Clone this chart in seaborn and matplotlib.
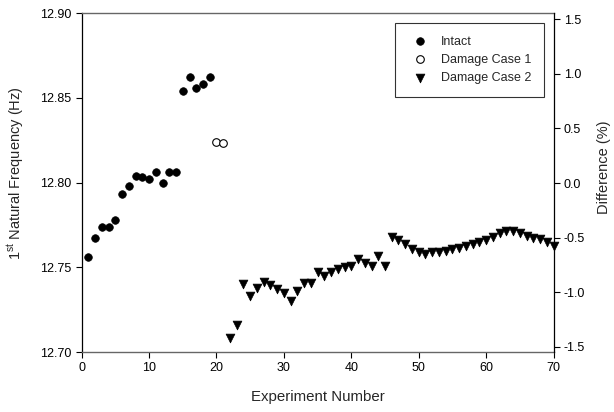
import numpy as np
import matplotlib
matplotlib.use("Agg")
import matplotlib.pyplot as plt
import seaborn as sns

# ---- data ----
intact_x = list(range(1, 20))
intact_f = [12.756, 12.767, 12.774, 12.774, 12.778, 12.793, 12.798, 12.804, 12.803,
            12.802, 12.806, 12.800, 12.806, 12.806, 12.854, 12.862, 12.856, 12.858, 12.862]

case1_x = [20, 21]
case1_f = [12.824, 12.8235]

case2_x = list(range(22, 71))
case2_f = [12.708, 12.716, 12.740, 12.733, 12.738, 12.7415, 12.7395, 12.737, 12.735,
           12.730, 12.736, 12.741, 12.741, 12.747, 12.745, 12.747, 12.749, 12.750,
           12.7507, 12.7547, 12.7527, 12.751, 12.7565, 12.7507,
           12.768, 12.766, 12.7635, 12.761, 12.7593, 12.7578, 12.7588, 12.759, 12.7598,
           12.7606, 12.7615, 12.7625, 12.7637, 12.765, 12.7663, 12.768, 12.770, 12.7714,
           12.7716, 12.770, 12.7686, 12.7674, 12.7667, 12.7647, 12.7625]

x_ticks = [0, 10, 20, 30, 40, 50, 60, 70]
left_ticks = [12.70, 12.75, 12.80, 12.85, 12.90]
right_ticks = [-1.5, -1.0, -0.5, 0.0, 0.5, 1.0, 1.5]

# ---- style ----
sns.set_style("ticks")
plt.rcParams["font.family"] = ["Liberation Sans", "DejaVu Sans"]
plt.rcParams["mathtext.fontset"] = "custom"
plt.rcParams["mathtext.rm"] = "Liberation Sans"
plt.rcParams["mathtext.it"] = "Liberation Sans:italic"

fig = plt.figure(figsize=(6.14, 4.12), dpi=100)
ax = fig.add_axes([0.133, 0.1456, 0.7685, 0.8228])

sns.scatterplot(x=intact_x, y=intact_f, ax=ax, marker="o", s=30, color="black",
                edgecolor="black", linewidth=0.5, label="Intact", clip_on=False, zorder=3)
sns.scatterplot(x=case1_x, y=case1_f, ax=ax, marker="o", s=30, color="white",
                edgecolor="black", linewidth=0.8, label="Damage Case 1", clip_on=False, zorder=3)
sns.scatterplot(x=case2_x, y=case2_f, ax=ax, marker="v", s=40, color="black",
                edgecolor="black", linewidth=0.5, label="Damage Case 2", clip_on=False, zorder=3)

ax.set_xlim(0, 70)
ax.set_ylim(12.70, 12.90)
ax.set_xticks(x_ticks)
ax.set_yticks(left_ticks)
ax.set_yticklabels([f"{v:.2f}" for v in left_ticks])
ax.tick_params(axis="both", direction="out", length=4, width=0.8, labelsize=9, colors="black")
ax.set_xlabel("Experiment Number", fontsize=10.8, labelpad=11)
ax.set_ylabel(r"1$^{\mathrm{st}}$ Natural Frequency (Hz)", fontsize=10.5)
ax.yaxis.set_label_coords(-0.118, 0.529)

for side in ["top", "bottom"]:
    ax.spines[side].set_color("#666666")
    ax.spines[side].set_linewidth(1.0)
ax.spines["left"].set_color("black")
ax.spines["left"].set_linewidth(0.9)
ax.spines["right"].set_visible(False)

handles, labels = ax.get_legend_handles_labels()
ax.get_legend().remove()

ax2 = ax.twinx()
ax2.set_ylim(-1.549, 1.558)
ax2.set_yticks(right_ticks)
ax2.set_yticklabels([f"{v:.1f}" for v in right_ticks])
ax2.tick_params(axis="y", direction="out", length=4, width=0.8, labelsize=9, colors="black")
ax2.set_ylabel("Difference (%)", fontsize=10.5)
ax2.yaxis.set_label_coords(1.093, 0.546)
for side in ["top", "bottom", "left"]:
    ax2.spines[side].set_visible(False)
ax2.spines["right"].set_visible(True)
ax2.spines["right"].set_color("black")
ax2.spines["right"].set_linewidth(0.9)

leg = ax2.legend(handles, labels, loc="upper right", bbox_to_anchor=(0.98, 0.9705),
                 borderaxespad=0, fontsize=9, frameon=True, fancybox=False,
                 edgecolor="black", borderpad=1.0, handlelength=2.0, handletextpad=0.7,
                 labelspacing=0.5, scatterpoints=1)
leg.get_frame().set_linewidth(0.8)

fig.savefig("out.png", dpi=100)
